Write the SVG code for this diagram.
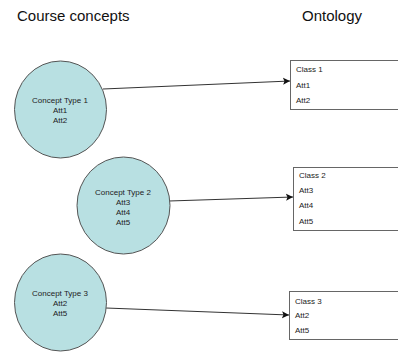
<svg xmlns="http://www.w3.org/2000/svg" width="398" height="353" viewBox="0 0 398 353">
<defs>
<marker id="arr" markerWidth="8" markerHeight="8" refX="7" refY="4" orient="auto" markerUnits="userSpaceOnUse">
<path d="M0,0.5 L7,4 L0,7.5 L1.5,4 Z" fill="#111"/>
</marker>
<style>
.t{font-family:"Liberation Sans",Arial,sans-serif;fill:#222}
.h{font-size:15px;fill:#111}
.s{font-size:8px}
.c{fill:#b8e0e2;stroke:#555;stroke-width:1}
.b{fill:#fff;stroke:#666;stroke-width:1}
.l{stroke:#333;stroke-width:1;fill:none;marker-end:url(#arr)}
</style>
</defs>
<rect width="398" height="353" fill="#fff"/>
<text class="t h" x="17" y="21">Course concepts</text>
<text class="t h" x="302" y="21">Ontology</text>
<g id="connectors">
<line class="l" x1="103" y1="89" x2="290" y2="81"/>
<line class="l" x1="169" y1="201" x2="293" y2="197"/>
<line class="l" x1="106" y1="308" x2="289" y2="315"/>
</g>
<g id="concept1">
<ellipse class="c" cx="60.5" cy="109.5" rx="46" ry="48.5"/>
<text class="t s" text-anchor="middle" x="60" y="102.5">Concept Type 1</text>
<text class="t s" text-anchor="middle" x="60" y="112.5">Att1</text>
<text class="t s" text-anchor="middle" x="60" y="122.5">Att2</text>
</g>
<g id="concept2">
<ellipse class="c" cx="123.5" cy="205.5" rx="46.5" ry="48.5"/>
<text class="t s" text-anchor="middle" x="123" y="194.5">Concept Type 2</text>
<text class="t s" text-anchor="middle" x="123" y="204.5">Att3</text>
<text class="t s" text-anchor="middle" x="123" y="214.5">Att4</text>
<text class="t s" text-anchor="middle" x="123" y="224.5">Att5</text>
</g>
<g id="concept3">
<ellipse class="c" cx="60.5" cy="302.5" rx="46" ry="48.5"/>
<text class="t s" text-anchor="middle" x="60" y="295.5">Concept Type 3</text>
<text class="t s" text-anchor="middle" x="60" y="305.5">Att2</text>
<text class="t s" text-anchor="middle" x="60" y="315.5">Att5</text>
</g>
<g id="class1">
<rect class="b" x="290.5" y="60.5" width="120" height="49"/>
<text class="t s" x="296" y="72">Class 1</text>
<text class="t s" x="296" y="87.5">Att1</text>
<text class="t s" x="296" y="103">Att2</text>
</g>
<g id="class2">
<rect class="b" x="293.5" y="167.5" width="120" height="63"/>
<text class="t s" x="299" y="178">Class 2</text>
<text class="t s" x="299" y="193">Att3</text>
<text class="t s" x="299" y="208">Att4</text>
<text class="t s" x="299" y="223.5">Att5</text>
</g>
<g id="class3">
<rect class="b" x="289.5" y="291.5" width="120" height="48"/>
<text class="t s" x="295" y="304">Class 3</text>
<text class="t s" x="295" y="318">Att2</text>
<text class="t s" x="295" y="333">Att5</text>
</g>
</svg>
